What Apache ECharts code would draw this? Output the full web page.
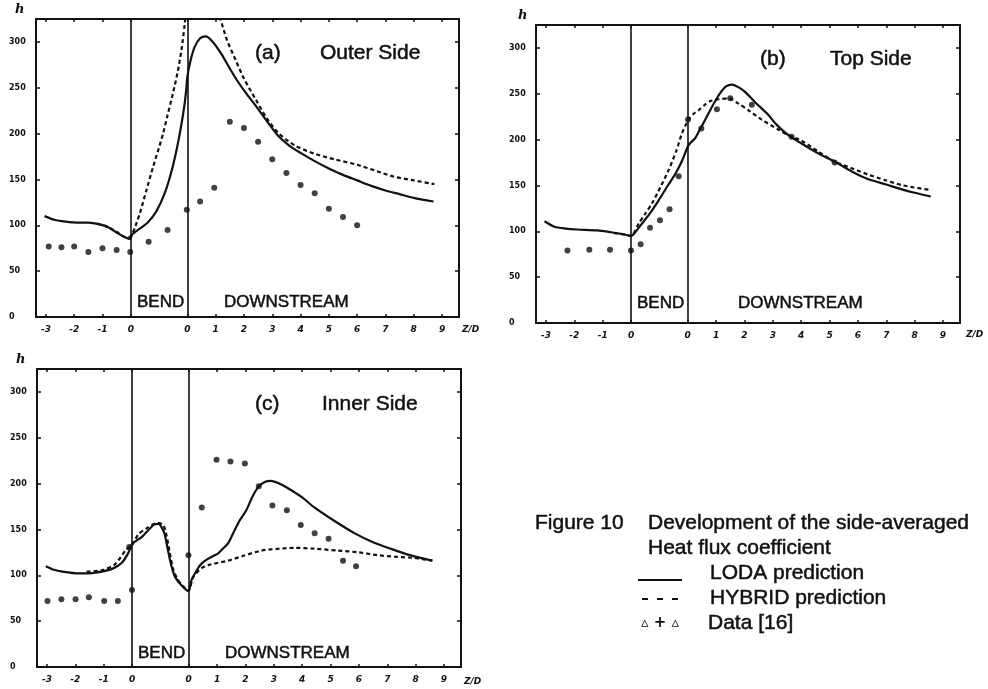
<!DOCTYPE html>
<html>
<head>
<meta charset="utf-8">
<script src="https://cdn.jsdelivr.net/npm/echarts@6/dist/echarts.min.js"></script>
<style>
  html, body { margin: 0; background: #fff; }
  #chart { width: 988px; height: 689px; }
</style>
</head>
<body>
<div id="chart"></div>
<script>
// x positions are axis units: upstream z/D is -3..0, the bend takes 0..2,
// downstream z/D = x - 2 (so downstream 0..9 sits at 2..11)
const X_TICKS = [-3, -2, -1, 0, 2, 3, 4, 5, 6, 7, 8, 9, 10, 11]
const Y_TICKS = [0, 50, 100, 150, 200, 250, 300]

// (a) outer side
const outerLoda = [
  [-3.05, 110], [-2.7, 106], [-2.3, 104], [-1.9, 103], [-1.5, 103], [-1.1, 101], [-0.8, 98],
  [-0.5, 92], [-0.2, 87], [-0.02, 85], [0.05, 90], [0.3, 96], [0.6, 103], [0.9, 115],
  [1.2, 135], [1.45, 160], [1.65, 187], [1.8, 212], [1.9, 232], [1.96, 248], [2.0, 262],
  [2.1, 278], [2.25, 294], [2.45, 304], [2.65, 306], [2.9, 300], [3.2, 287], [3.5, 271],
  [3.8, 256], [4.1, 243], [4.4, 231], [4.8, 214], [5.2, 198], [5.6, 187], [6.0, 179],
  [6.5, 170], [7.0, 162], [7.5, 155], [8.0, 149], [8.5, 143], [9.0, 138], [9.5, 134],
  [10.0, 130], [10.7, 126]
]
const outerHybrid = [
  [-1.2, 102], [-0.8, 98], [-0.5, 93], [-0.2, 87], [0, 88], [0.15, 98], [0.32, 113],
  [0.55, 138], [0.79, 164], [1.0, 185], [1.14, 200], [1.3, 220], [1.49, 244], [1.65, 266],
  [1.79, 291], [1.9, 318], [1.97, 340], [2.5, '-'],
  [3.1, 335], [3.18, 324], [3.4, 302], [3.71, 280], [4.0, 260], [4.42, 237], [4.8, 217],
  [5.24, 200], [5.8, 187], [6.5, 178], [7.2, 172], [8.0, 166], [8.7, 159], [9.3, 153],
  [10.0, 149], [10.73, 145]
]
const outerData = [
  [-2.9, 77], [-2.45, 76], [-2.0, 77], [-1.5, 71], [-1.0, 75], [-0.5, 73], [-0.02, 71],
  [0.63, 82], [1.3, 95], [1.98, 117], [2.45, 126], [2.95, 141], [3.5, 213], [4.0, 206],
  [4.5, 191], [5.0, 172], [5.5, 157], [6.0, 144], [6.5, 135], [7.0, 118], [7.5, 109], [8.0, 100]
]

// (b) top side
const topLoda = [
  [-3.05, 111], [-2.7, 105], [-2.3, 103], [-1.9, 102], [-1.2, 101], [-0.7, 99], [-0.3, 97],
  [0, 95], [0.2, 101], [0.4, 109], [0.7, 121], [0.98, 134], [1.3, 150], [1.57, 163],
  [1.8, 177], [2.03, 194], [2.27, 202], [2.5, 215], [2.74, 229], [2.95, 241], [3.15, 251],
  [3.35, 258], [3.56, 260], [3.8, 257], [4.02, 252], [4.4, 240], [4.84, 227], [5.08, 218],
  [5.5, 206], [6.0, 196], [6.6, 185], [7.18, 176], [7.8, 165], [8.35, 157], [9.0, 151],
  [9.52, 146], [10.0, 142], [10.57, 138]
]
const topHybrid = [
  [-0.6, 98], [-0.3, 97], [0, 95], [0.28, 109], [0.5, 119], [0.75, 131], [1.05, 149],
  [1.33, 167], [1.6, 188], [1.8, 207], [2.03, 222], [2.2, 228], [2.38, 232], [2.6, 238],
  [2.79, 242], [3.1, 244], [3.44, 245], [3.8, 239], [4.14, 232], [4.6, 222], [5.19, 211],
  [5.6, 204], [6.0, 199], [6.6, 187], [7.18, 176], [7.76, 169], [8.35, 162], [8.94, 156],
  [9.6, 150], [10.57, 145]
]
const topData = [
  [-2.24, 79], [-1.47, 80], [-0.74, 80], [0, 79], [0.34, 86], [0.67, 104], [1.02, 112],
  [1.36, 124], [1.68, 160], [2.01, 222], [2.48, 212], [3.03, 233], [3.5, 245], [4.26, 238],
  [5.66, 203], [7.18, 175]
]

// (c) inner side
const innerLoda = [
  [-3.04, 110], [-2.75, 106], [-2.46, 104], [-1.87, 102], [-1.28, 103], [-0.7, 107],
  [-0.35, 114], [-0.12, 125], [0, 134], [0.35, 142], [0.6, 150], [0.76, 155], [0.94, 156],
  [1.05, 152], [1.15, 145], [1.29, 124], [1.4, 109], [1.52, 98], [1.75, 89], [1.99, 83],
  [2.1, 95], [2.22, 102], [2.4, 111], [2.58, 116], [2.8, 120], [3.04, 124], [3.2, 129],
  [3.39, 135], [3.6, 148], [3.8, 160], [4.03, 171], [4.25, 186], [4.47, 197], [4.7, 202],
  [4.9, 203], [5.2, 200], [5.5, 195], [6.0, 185], [6.43, 174], [7.1, 160], [7.84, 146],
  [8.5, 136], [9.12, 129], [9.8, 122], [10.59, 116]
]
const innerHybrid = [
  [-1.6, 104], [-1.0, 106], [-0.6, 112], [-0.23, 127], [0, 133], [0.23, 145], [0.5, 151],
  [0.76, 156], [0.94, 157], [1.1, 155], [1.2, 146], [1.33, 125], [1.45, 107], [1.6, 96],
  [1.8, 88], [1.99, 83], [2.16, 98], [2.46, 108], [2.8, 112], [3.39, 116], [3.9, 121],
  [4.57, 127], [5.2, 129], [5.73, 130], [6.43, 129], [7.25, 127], [8.0, 125], [8.65, 122],
  [9.36, 120], [9.94, 119], [10.59, 116]
]
const innerData = [
  [-2.98, 72], [-2.49, 74], [-1.99, 74], [-1.52, 76], [-0.98, 72], [-0.5, 72], [-0.1, 131],
  [0, 84], [1.99, 122], [2.46, 174], [2.98, 226], [3.47, 224], [3.98, 222], [4.47, 197],
  [4.95, 176], [5.46, 171], [5.95, 155], [6.44, 146], [6.93, 140], [7.44, 116], [7.9, 110]
]

const INK = '#111'
const TEXT_FONT = '"Liberation Sans", Arial, sans-serif'
const X_MIN = -3.35
const X_MAX = 11.6
const Y_MAX = 325

const panels = [
  { grid: { left: 36, top: 19, width: 423, height: 298 }, loda: outerLoda, hybrid: outerHybrid, data: outerData },
  { grid: { left: 536, top: 25, width: 424, height: 298 }, loda: topLoda, hybrid: topHybrid, data: topData },
  { grid: { left: 37, top: 369, width: 424, height: 298 }, loda: innerLoda, hybrid: innerHybrid, data: innerData }
]

const frameLine = { onZero: false, lineStyle: { color: INK, width: 2 } }

function xAxes(i) {
  const base = {
    gridIndex: i, type: 'value', min: X_MIN, max: X_MAX,
    axisLine: frameLine, splitLine: { show: false },
    axisTick: { inside: true, length: 3, customValues: X_TICKS, lineStyle: { color: INK, width: 1.5 } }
  }
  return [
    {
      ...base, position: 'bottom',
      axisLabel: {
        customValues: X_TICKS,
        formatter: v => String(v > 0 ? v - 2 : v),
        color: INK, fontSize: 9, fontWeight: 'bold', fontStyle: 'italic',
        fontFamily: '"DejaVu Sans", sans-serif', margin: 8
      }
    },
    { ...base, position: 'top', axisLabel: { show: false } }
  ]
}

function yAxes(i) {
  const base = {
    gridIndex: i, type: 'value', min: 0, max: Y_MAX,
    axisLine: frameLine, splitLine: { show: false },
    axisTick: { inside: true, length: 4, customValues: Y_TICKS, lineStyle: { color: INK, width: 1.5 } }
  }
  return [
    {
      ...base, position: 'left',
      axisLabel: {
        customValues: Y_TICKS, align: 'left', margin: 27,
        color: INK, fontSize: 8, fontWeight: 'bold', fontFamily: '"DejaVu Sans", sans-serif'
      }
    },
    { ...base, position: 'right', axisLabel: { show: false } }
  ]
}

const series = []
panels.forEach((p, i) => {
  const axis = { xAxisIndex: 2 * i, yAxisIndex: 2 * i }
  series.push({
    ...axis, type: 'line', data: p.loda, showSymbol: false, smooth: 0.25,
    lineStyle: { color: INK, width: 2.2 },
    markLine: {
      silent: true, symbol: 'none', label: { show: false },
      lineStyle: { color: INK, type: 'solid', width: 1.6 },
      data: [{ xAxis: 0 }, { xAxis: 2 }]
    }
  })
  series.push({
    ...axis, type: 'line', data: p.hybrid, showSymbol: false, smooth: 0.25,
    lineStyle: { color: INK, width: 2.2, type: [4, 3] }
  })
  series.push({
    ...axis, type: 'scatter', data: p.data, symbol: 'circle', symbolSize: 6,
    itemStyle: { color: INK }
  })
})

function txt(x, y, text, size, extra) {
  return {
    type: 'text', x, y,
    style: Object.assign({
      text, fill: INK, font: `${size}px ${TEXT_FONT}`, textVerticalAlign: 'middle',
      stroke: INK, lineWidth: 0.5
    }, extra || {})
  }
}

const italicH = { font: 'italic bold 13px "DejaVu Serif", serif', lineWidth: 0 }
const zd = { font: 'italic bold 9px "DejaVu Sans", sans-serif', lineWidth: 0 }

const graphic = [
  // panel titles
  txt(255, 53, '(a)', 21), txt(320, 53, 'Outer Side', 21),
  txt(760, 59, '(b)', 21), txt(830, 59, 'Top Side', 21),
  txt(255, 404, '(c)', 21), txt(322, 404, 'Inner Side', 21),
  // region names
  txt(137, 302, 'BEND', 17), txt(224, 302, 'DOWNSTREAM', 17),
  txt(637, 303, 'BEND', 17), txt(738, 303, 'DOWNSTREAM', 17),
  txt(138, 653, 'BEND', 17), txt(225, 653, 'DOWNSTREAM', 17),
  // axis names
  txt(15, 10, 'h', 13, italicH), txt(518, 16, 'h', 13, italicH), txt(16, 360, 'h', 13, italicH),
  txt(462, 330, 'Z/D', 9, zd), txt(966, 335, 'Z/D', 9, zd), txt(464, 682, 'Z/D', 9, zd),
  // caption and key
  txt(535, 523, 'Figure 10', 21),
  txt(648, 523, 'Development of the side-averaged', 21),
  txt(648, 548, 'Heat flux coefficient', 21),
  { type: 'line', shape: { x1: 638, y1: 580, x2: 682, y2: 580 }, style: { stroke: INK, lineWidth: 2 } },
  txt(710, 573, 'LODA prediction', 21),
  { type: 'line', shape: { x1: 642, y1: 599, x2: 682, y2: 599 }, style: { stroke: INK, lineWidth: 2, lineDash: [6, 9] } },
  txt(710, 598, 'HYBRID prediction', 21),
  txt(641, 623, '\u25B5 + \u25B5', 15, { font: 'bold 15px "DejaVu Sans", sans-serif', lineWidth: 0 }),
  txt(708, 623, 'Data [16]', 21)
]

const chart = echarts.init(document.getElementById('chart'))
chart.setOption({
  animation: false,
  backgroundColor: '#fff',
  grid: panels.map(p => p.grid),
  xAxis: panels.flatMap((p, i) => xAxes(i)),
  yAxis: panels.flatMap((p, i) => yAxes(i)),
  series,
  graphic
})
</script>
</body>
</html>
